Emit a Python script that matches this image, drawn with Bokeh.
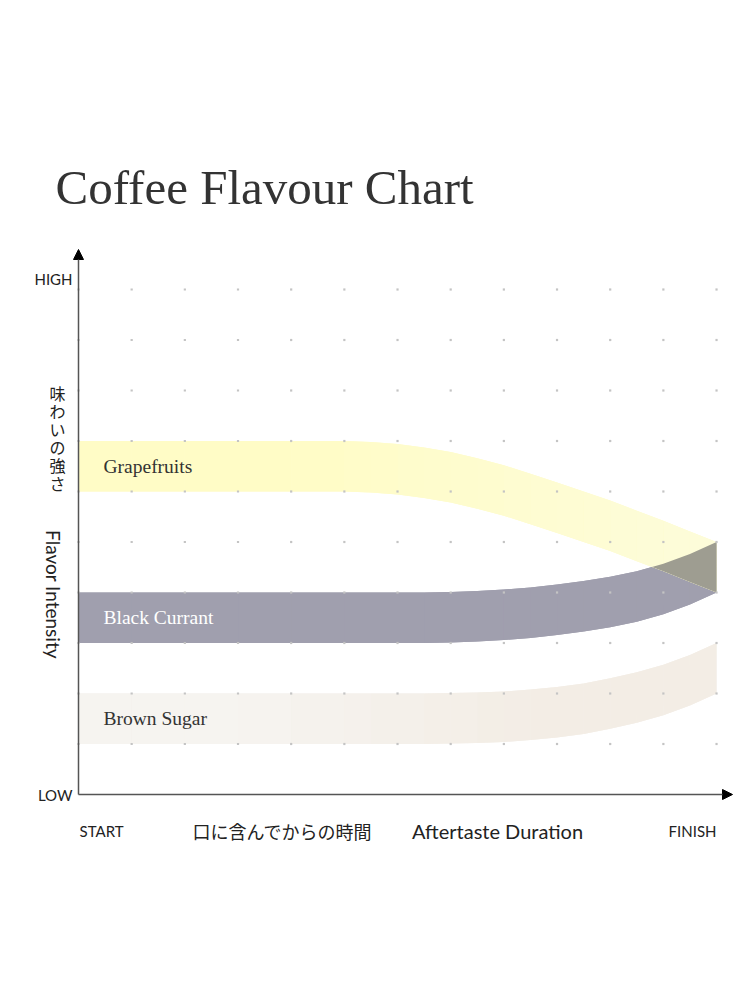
import numpy as np
from bokeh.plotting import figure
from bokeh.models import Range1d, Arrow, NormalHead
from bokeh.core.properties import value
from bokeh.embed import file_html
from bokeh.resources import INLINE

# ---------------- data ----------------
chart_title = "Coffee Flavour Chart"
flavours = ["Grapefruits", "Black Currant", "Brown Sugar"]

# time axis positions (START = 0, FINISH = 12)
time_pos = [0, 1, 2, 3, 4, 5, 5.5, 6, 6.5, 7, 7.5, 8, 8.5, 9, 9.5, 10, 10.5, 11, 11.5, 12]

grapefruit_upper = [7, 7, 7, 7, 7, 7, 6.98, 6.94, 6.87, 6.78, 6.66, 6.52, 6.35, 6.18, 6.0, 5.82, 5.62, 5.42, 5.21, 5.0]
grapefruit_lower = [6, 6, 6, 6, 6, 6, 5.98, 5.94, 5.87, 5.78, 5.66, 5.52, 5.35, 5.18, 5.0, 4.82, 4.62, 4.42, 4.21, 4.0]

currant_upper = [4, 4, 4, 4, 4, 4, 4, 4, 4.0, 4.01, 4.03, 4.06, 4.10, 4.16, 4.23, 4.31, 4.42, 4.57, 4.76, 5.0]
currant_lower = [3, 3, 3, 3, 3, 3, 3, 3, 3.0, 3.01, 3.03, 3.06, 3.10, 3.16, 3.23, 3.31, 3.42, 3.57, 3.76, 4.0]

sugar_upper = [2, 2, 2, 2, 2, 2, 2, 2, 2.0, 2.01, 2.02, 2.04, 2.08, 2.13, 2.20, 2.30, 2.42, 2.57, 2.76, 3.0]
sugar_lower = [1, 1, 1, 1, 1, 1, 1, 1, 1.0, 1.01, 1.02, 1.04, 1.08, 1.13, 1.20, 1.30, 1.42, 1.57, 1.76, 2.0]

label_levels = [6.5, 3.5, 1.5]
label_x = 0.47

grid_cols = list(range(0, 13))
grid_rows = list(range(1, 11))

y_end_labels = ["LOW", "HIGH"]
x_end_labels = ["START", "FINISH"]
x_title_jp = "口に含んでからの時間"
x_title_en = "Aftertaste Duration"
y_title_jp = "味わいの強さ"
y_title_en = "Flavor Intensity"

# ---------------- layout ----------------
W, H = 734, 900
PX_X, PX_Y = 53.17, 50.5          # pixels per data unit
ORIG_PX, ORIG_PY = 78, 794        # screenshot pixel of data origin
FIG_LEFT, FIG_TOP = 0, 0          # screenshot pixel of the figure's top-left


def dx(px):
    return (px - ORIG_PX) / PX_X


def dy(py):
    return (ORIG_PY - py) / PX_Y


p = figure(width=W, height=H,
           x_range=Range1d(dx(FIG_LEFT), dx(FIG_LEFT + W)),
           y_range=Range1d(dy(FIG_TOP + H), dy(FIG_TOP)),
           x_axis_type=None, y_axis_type=None,
           output_backend="svg", toolbar_location=None, min_border=0)
p.grid.visible = False
p.outline_line_color = None
p.background_fill_color = "white"
p.border_fill_color = "white"


def lerp_color(xv, stops):
    if xv <= stops[0][0]:
        c = stops[0][1]
    elif xv >= stops[-1][0]:
        c = stops[-1][1]
    else:
        for (x0, c0), (x1, c1) in zip(stops[:-1], stops[1:]):
            if x0 <= xv <= x1:
                t = (xv - x0) / (x1 - x0)
                c = tuple(a + (b - a) * t for a, b in zip(c0, c1))
                break
    return "#%02x%02x%02x" % tuple(int(round(v)) for v in c)


def draw_band(xs, lo, hi, stops):
    xs = np.asarray(xs, float)
    lo = np.asarray(lo, float)
    hi = np.asarray(hi, float)
    mid = lerp_color((xs[0] + xs[-1]) / 2, stops)
    p.varea(x=xs, y1=lo, y2=hi, fill_color=mid)
    for i in range(len(xs) - 1):
        c = lerp_color((xs[i] + xs[i + 1]) / 2, stops)
        p.varea(x=xs[i:i + 2], y1=lo[i:i + 2], y2=hi[i:i + 2], fill_color=c)


yellow_stops = [(4, (255, 252, 198)), (12, (253, 252, 218))]
currant_stops = [(0, (160, 159, 174)), (12, (160, 159, 174))]
sugar_stops = [(3, (246, 244, 240)), (8.5, (243, 237, 229))]

draw_band(time_pos, sugar_lower, sugar_upper, sugar_stops)
draw_band(time_pos, currant_lower, currant_upper, currant_stops)
draw_band(time_pos, grapefruit_lower, grapefruit_upper, yellow_stops)

# overlap of grapefruit and black currant (multiply look)
xs = np.asarray(time_pos, float)
top = np.minimum(grapefruit_upper, currant_upper)
bot = np.maximum(grapefruit_lower, currant_lower)
d = top - bot
ox, otop, obot = [], [], []
for i in range(len(xs)):
    if i > 0 and (d[i - 1] > 0) != (d[i] > 0):
        t = d[i - 1] / (d[i - 1] - d[i])
        xc = xs[i - 1] + t * (xs[i] - xs[i - 1])
        bc = bot[i - 1] + t * (bot[i] - bot[i - 1])
        ox.append(xc); otop.append(bc); obot.append(bc)
    ox.append(xs[i])
    obot.append(bot[i])
    otop.append(top[i] if d[i] > 0 else bot[i])
p.varea(x=ox, y1=obot, y2=otop, fill_color="#9e9d91")

# dot grid
gx = [c for r in grid_rows for c in grid_cols]
gy = [r for r in grid_rows for c in grid_cols]
p.scatter(x=gx, y=gy, marker="square", size=2.2, fill_color="#c4c4c4", line_color=None)

# axes with arrow heads
p.add_layout(Arrow(x_start=0, y_start=0, x_end=0, y_end=dy(249),
                   line_color="#555555", line_width=1.5,
                   end=NormalHead(size=10, fill_color="black", line_color="black", line_width=1)))
p.add_layout(Arrow(x_start=0, y_start=0, x_end=dx(732), y_end=0,
                   line_color="#555555", line_width=1.5,
                   end=NormalHead(size=10, fill_color="black", line_color="black", line_width=1)))

SANS = value("Lato")
SERIF = value("Liberation Serif")
CJK = value("Noto Sans CJK JP")

# title
p.text(x=[dx(55)], y=[dy(187)], text=[chart_title], text_font=SERIF,
       text_font_size="49px", text_color="#333333", text_baseline="middle")

# flavour labels
p.text(x=[label_x] * 3, y=label_levels, text=flavours, text_font=SERIF,
       text_font_size="19.5px", text_color=["#333333", "#ffffff", "#333333"],
       text_baseline="middle")

# y end labels
p.text(x=[dx(72)] * 2, y=[0, dy(278)], text=y_end_labels, text_font=SANS,
       text_font_size="15px", text_color="#222222", text_align="right", text_baseline="middle")

# x end labels
p.text(x=[0.02, 12], y=[dy(830)] * 2, text=x_end_labels, text_font=SANS,
       text_font_size="15px", text_color="#222222", text_align=["left", "right"],
       text_baseline="middle")

# x axis titles
p.text(x=[dx(282)], y=[dy(830)], text=[x_title_jp], text_font=CJK, text_font_size="18px",
       text_color="#222222", text_align="center", text_baseline="middle")
p.text(x=[dx(497)], y=[dy(830)], text=[x_title_en], text_font=SANS, text_font_size="20px",
       text_color="#222222", text_align="center", text_baseline="middle")

# y axis titles
chars = list(y_title_jp)
p.text(x=[dx(57)] * len(chars), y=[dy(392 + 18 * i) for i in range(len(chars))], text=chars,
       text_font=CJK, text_font_size="16px", text_color="#222222",
       text_align="center", text_baseline="middle")
p.text(x=[dx(53)], y=[dy(594)], text=[y_title_en], text_font=SANS, text_font_size="19px",
       text_color="#222222", text_align="center", text_baseline="middle", angle=-np.pi / 2)

open("out.html", "w").write(file_html(p, INLINE))
